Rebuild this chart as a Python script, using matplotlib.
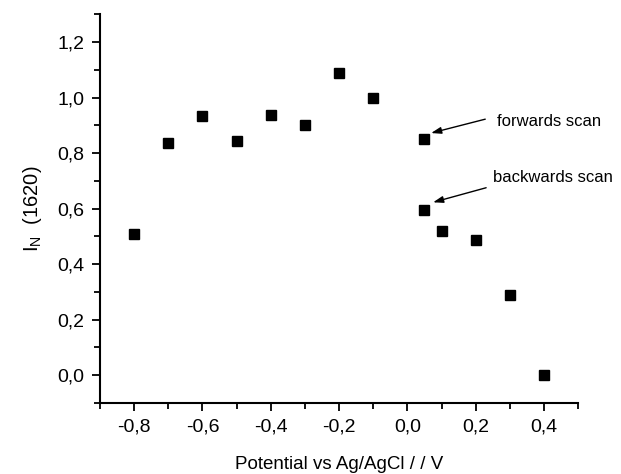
import matplotlib
matplotlib.use('Agg')
from matplotlib import pyplot as plt
from matplotlib.ticker import MultipleLocator, FuncFormatter

# potential (V) and normalised intensity of the 1620 band
potential = [-0.8, -0.7, -0.6, -0.5, -0.4, -0.3, -0.2, -0.1, 0.05, 0.05, 0.1, 0.2, 0.3, 0.4]
intensity = [0.507, 0.836, 0.932, 0.844, 0.937, 0.902, 1.087, 1.0, 0.851, 0.595, 0.519, 0.486, 0.288, 0.0]

plt.rcParams['font.family'] = ['Liberation Sans', 'DejaVu Sans']

fig = plt.figure(figsize=(6.21, 4.74), dpi=100)
ax = fig.add_axes([0.161, 0.150, 0.770, 0.820])

ax.plot(potential, intensity, 's', color='black', markersize=7.5, linestyle='none')

ax.set_xlim(-0.9, 0.5)
ax.set_ylim(-0.1, 1.3)
ax.xaxis.set_major_locator(MultipleLocator(0.2))
ax.xaxis.set_minor_locator(MultipleLocator(0.1))
ax.yaxis.set_major_locator(MultipleLocator(0.2))
ax.yaxis.set_minor_locator(MultipleLocator(0.1))

comma = FuncFormatter(lambda v, p: ('%.1f' % v).replace('.', ',').replace('-0,0', '0,0'))
ax.xaxis.set_major_formatter(comma)
ax.yaxis.set_major_formatter(comma)

for s in ['top', 'right']:
    ax.spines[s].set_visible(False)
ax.spines['left'].set_linewidth(1.5)
ax.spines['bottom'].set_linewidth(1.5)
ax.tick_params(which='major', direction='out', length=6, width=1.3, labelsize=14, pad=5)
ax.tick_params(which='minor', direction='out', length=4, width=1.3)

ax.set_xlabel('Potential vs Ag/AgCl / / V', fontsize=13.5, labelpad=15)
ax.set_ylabel(r'$\mathregular{I_N}$  (1620)', fontsize=14.5, labelpad=10)

arrow = dict(arrowstyle='-|>,head_length=0.6,head_width=0.2', color='black', lw=1.0,
             shrinkA=0, shrinkB=0)
ax.annotate('', xy=(0.0695, 0.872), xytext=(0.228, 0.922), arrowprops=arrow)
ax.annotate('', xy=(0.0753, 0.6225), xytext=(0.2306, 0.675), arrowprops=arrow)
ax.text(0.2627, 0.914, 'forwards scan', fontsize=12, ha='left', va='center')
ax.text(0.251, 0.712, 'backwards scan', fontsize=12, ha='left', va='center')

fig.savefig('out.png', dpi=100)
